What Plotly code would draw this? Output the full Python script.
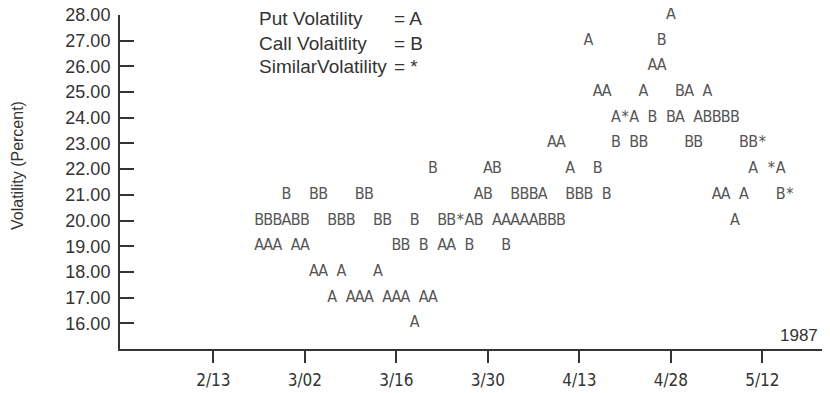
import plotly.graph_objects as go

# ---- data (x = trading-day index, 0 = 2/13/1987) ----
put_days = [5, 6, 7, 8, 9, 10, 11, 12, 13, 14, 15, 16, 17, 18, 19, 20, 21, 22, 23, 24, 25, 26,
            28, 29, 30, 31, 32, 33, 34, 35, 36, 37, 38, 39, 41, 42, 43, 44, 46, 47, 48, 49, 50,
            51, 52, 53, 54, 55, 56, 57, 58, 59, 62]
put_vol = [19, 19, 19, 20, 19, 19, 18, 18, 17, 18, 17, 17, 17, 18, 17, 17, 17, 16, 17, 17, 19, 19,
           20, 21, 22, 20, 20, 20, 20, 20, 21, 23, 23, 22, 27, 25, 25, 24, 24, 25, 26, 26, 28,
           24, 25, 24, 25, 21, 21, 20, 21, 22, 22]

call_days = [5, 6, 7, 8, 9, 10, 11, 12, 13, 14, 15, 16, 17, 18, 19, 20, 21, 22, 23, 24, 25, 26,
             28, 29, 30, 31, 32, 33, 34, 35, 36, 37, 38, 39, 40, 41, 42, 43, 44, 46, 47, 48, 49,
             50, 51, 52, 53, 54, 55, 56, 57, 58, 59, 62]
call_vol = [20, 20, 20, 21, 20, 20, 21, 21, 20, 20, 20, 21, 21, 20, 20, 19, 19, 20, 19, 22, 20, 20,
            19, 20, 21, 22, 19, 21, 21, 21, 20, 20, 20, 21, 21, 21, 22, 21, 23, 23, 23, 24, 27,
            24, 25, 23, 23, 24, 24, 24, 24, 23, 23, 21]

similar_days = [27, 45, 60, 61, 63]
similar_vol = [20, 24, 23, 22, 21]

tick_days = [0, 10, 20, 30, 40, 50, 60]
tick_labels = ["2/13", "3/02", "3/16", "3/30", "4/13", "4/28", "5/12"]
y_ticks = [16, 17, 18, 19, 20, 21, 22, 23, 24, 25, 26, 27, 28]

legend_names = ["Put Volatility", "Call Volaitlity", "SimilarVolatility"]
legend_syms = ["= A", "= B", "= *"]
year_label = "1987"
y_title = "Volatility (Percent)"

# ---- styling ----
INK = "#333333"
MARK = "#555555"
MARK_FONT = "Liberation Sans Narrow, Arial Narrow, DejaVu Sans Condensed, Liberation Sans, Arial"
FONT = "Liberation Sans, Arial, Helvetica, sans-serif"

fig = go.Figure()
for days, vols, sym, name in [(put_days, put_vol, "A", "Put"),
                              (call_days, call_vol, "B", "Call"),
                              (similar_days, similar_vol, "*", "Similar")]:
    fig.add_trace(go.Scatter(
        x=days, y=vols, mode="text", text=[sym] * len(days), name=name,
        textposition="middle center", cliponaxis=False, showlegend=False,
        textfont=dict(family=MARK_FONT, size=16, color=MARK),
    ))

# the page adds an 8px body margin; figure coordinates below are screen - 8
OFF = 8
W, H = 830 - OFF, 393 - OFF
L, R, T, B = 120 - OFF, 4, 15 - OFF, 44
pw, ph = W - L - R, H - T - B

def px(x):
    return (x - OFF - L) / pw

def py(y):
    return (H - B - (y - OFF)) / ph

annotations = []
rows_y = [19, 43, 66]
for name, sym, yy in zip(legend_names, legend_syms, rows_y):
    annotations.append(dict(x=px(257), y=py(yy), xref="paper", yref="paper", text=name,
                            showarrow=False, xanchor="left", yanchor="middle",
                            font=dict(family=FONT, size=19, color=INK)))
    annotations.append(dict(x=px(392), y=py(yy), xref="paper", yref="paper", text=sym,
                            showarrow=False, xanchor="left", yanchor="middle",
                            font=dict(family=FONT, size=19, color=INK)))
annotations.append(dict(x=px(820), y=py(335), xref="paper", yref="paper", text=year_label,
                        showarrow=False, xanchor="right", yanchor="middle",
                        font=dict(family=FONT, size=17, color=INK)))
annotations.append(dict(x=px(18), y=py(166), xref="paper", yref="paper", text=y_title,
                        showarrow=False, xanchor="center", yanchor="middle", textangle=-90,
                        font=dict(family=FONT, size=16, color=INK)))

fig.update_layout(
    width=W, height=H, margin=dict(l=L, r=R, t=T, b=B, autoexpand=False),
    plot_bgcolor="white", paper_bgcolor="white",
    annotations=annotations,
    xaxis=dict(range=[-10.2, 66.96], tickvals=tick_days, ticktext=tick_labels,
               showgrid=False, zeroline=False, showline=True, linecolor=INK, linewidth=2,
               ticks="outside", ticklen=12, tickwidth=2, tickcolor=INK, automargin=False,
               tickfont=dict(family=MARK_FONT, size=17, color=INK), ticklabelstandoff=3),
    yaxis=dict(range=[15, 28], tickvals=y_ticks, tickformat=".2f",
               showgrid=False, zeroline=False, showline=True, linecolor=INK, linewidth=2,
               ticks="inside", ticklen=14, tickwidth=2, tickcolor=INK, automargin=False,
               ticklabeloverflow="allow",
               tickfont=dict(family=FONT, size=18, color=INK), ticklabelstandoff=4),
)

fig.write_html("out.html")
